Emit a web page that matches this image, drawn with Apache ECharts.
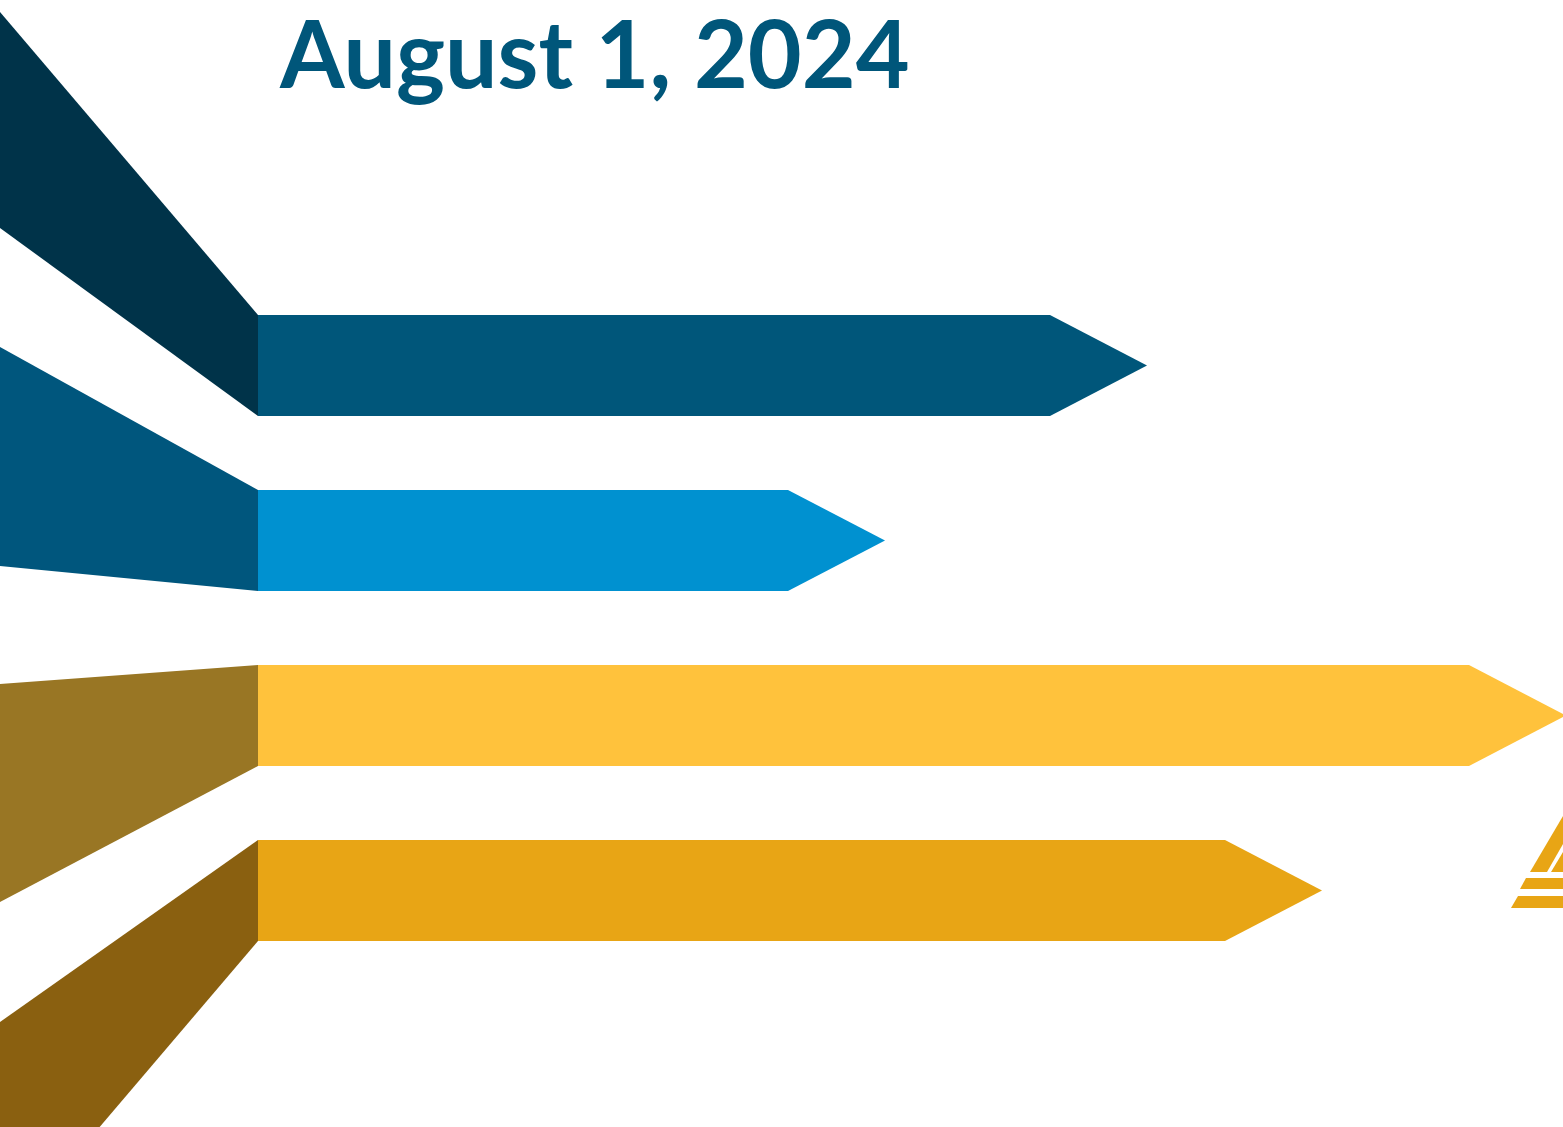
<!DOCTYPE html>
<html>
<head>
<meta charset="utf-8">
<script src="https://cdn.jsdelivr.net/npm/echarts@6/dist/echarts.min.js"></script>
<style>html,body{margin:0;padding:0;background:#fff;}#main{width:1563px;height:1127px;}</style>
</head>
<body>
<div id="main"></div>
<script>
// ---- data ----
const titleText = 'August 1, 2024';
const categories = ['Stage 1', 'Stage 2', 'Stage 3', 'Stage 4'];
// arrow length (tip) along the value axis
const barValues = [889, 627, 1308, 1064];
// where each fan band meets the left edge (in category units)
const fanTop = [-2.02, -0.106, 1.82, 3.751];
const fanBottom = [-0.786, 1.146, 3.066, 5.02];
const barColors = ['#00567A', '#0091D0', '#FFC23C', '#E8A515'];
const fanColors = ['#003349', '#00567D', '#997624', '#8A6010'];

const chart = echarts.init(document.getElementById('main'), null, {renderer: 'canvas'});
const halfH = 0.289;   // half bar thickness in category units
const tipLen = 97;     // arrow head length in value units
const fanStart = -258;

const data = categories.map((c, i) => [barValues[i], i, fanTop[i], fanBottom[i]]);

const option = {
  backgroundColor: '#ffffff',
  animation: false,
  grid: {left: 0, right: 0, top: 0, bottom: 0},
  xAxis: {type: 'value', min: fanStart, max: 1305, show: false},
  yAxis: {type: 'value', inverse: true, min: -2.0886, max: 4.3514, show: false},
  series: [{
    type: 'custom',
    clip: false,
    data: data,
    renderItem: function (params, api) {
      const v = api.value(0), idx = api.value(1), ft = api.value(2), fb = api.value(3);
      const i = params.dataIndex;
      const fan = [
        api.coord([fanStart, ft]),
        api.coord([0, idx - halfH]),
        api.coord([0, idx + halfH]),
        api.coord([fanStart, fb])
      ];
      const bar = [
        api.coord([0, idx - halfH]),
        api.coord([v - tipLen, idx - halfH]),
        api.coord([v, idx]),
        api.coord([v - tipLen, idx + halfH]),
        api.coord([0, idx + halfH])
      ];
      return {
        type: 'group',
        children: [
          {type: 'polygon', shape: {points: fan}, style: {fill: fanColors[i]}},
          {type: 'polygon', shape: {points: bar}, style: {fill: barColors[i]}}
        ]
      };
    }
  }],
  graphic: [
    {
      type: 'text', left: 280, top: 11,
      style: {text: titleText, fill: '#00567A', font: 'bold 93px Lato'}
    },
    {type: 'polygon', shape: {points: [[1530, 872], [1563, 816], [1563, 844], [1547, 872]]}, style: {fill: '#E8A515'}},
    {type: 'polygon', shape: {points: [[1551, 872], [1563, 852], [1563, 872]]}, style: {fill: '#E8A515'}},
    {type: 'polygon', shape: {points: [[1526, 878], [1563, 878], [1563, 889], [1520, 889]]}, style: {fill: '#E8A515'}},
    {type: 'polygon', shape: {points: [[1518, 896], [1563, 896], [1563, 908], [1511, 908]]}, style: {fill: '#E8A515'}}
  ]
};
chart.setOption(option);
</script>
</body>
</html>
